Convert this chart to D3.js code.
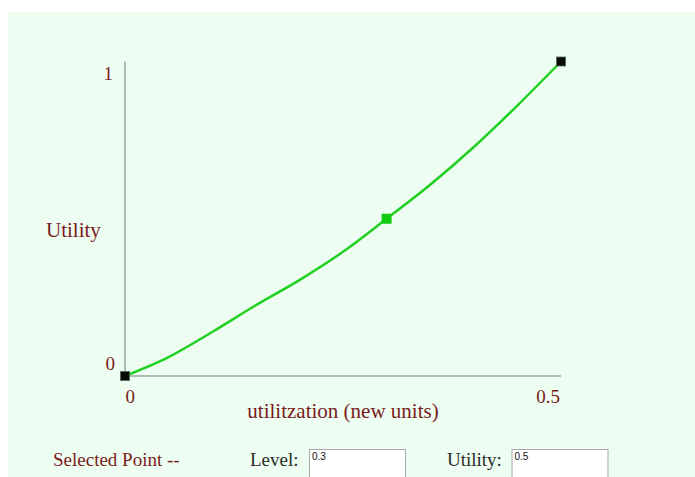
<!DOCTYPE html>
<html>
<head>
<meta charset="utf-8">
<script src="https://cdn.jsdelivr.net/npm/d3@7"></script>
<style>
  html, body { margin: 0; padding: 0; background: #ffffff; }
  svg { display: block; }
</style>
</head>
<body>
<svg id="chart" width="695" height="477"></svg>
<script>
// ---- data ----
const levels    = [0, 0.05, 0.1, 0.15, 0.2, 0.25, 0.3, 0.35, 0.4, 0.45, 0.5];
const utilities = [0, 0.06, 0.14, 0.225, 0.305, 0.395, 0.5, 0.608, 0.728, 0.86, 1];
const endpoints = [[0, 0], [0.5, 1]];
const selected  = [0.3, 0.5];
const xTickLabels = ["0", "0.5"];
const yTickLabels = ["0", "1"];
const xTitle = "utilitzation (new units)";
const yTitle = "Utility";

const svg = d3.select("#chart");
const darkRed = "#7a1c1c";
const serif = "'Liberation Serif', 'Times New Roman', serif";

// background panel
svg.append("rect").attr("x", 8).attr("y", 12).attr("width", 687).attr("height", 465)
  .attr("fill", "#edfdf1");

const x = d3.scaleLinear().domain([0, 0.5]).range([125, 561]);
const y = d3.scaleLinear().domain([0, 1]).range([376, 61.5]);

// axes
svg.append("line").attr("x1", x(0)).attr("x2", x(0)).attr("y1", y(0)).attr("y2", y(1))
  .attr("stroke", "#9aa39c").attr("stroke-width", 1.5);
svg.append("line").attr("x1", x(0)).attr("x2", x(0.5)).attr("y1", y(0)).attr("y2", y(0))
  .attr("stroke", "#9aa39c").attr("stroke-width", 1.5);

// tick labels
svg.append("text").attr("x", x(0) + 0.5).attr("y", y(0) + 27).text(xTickLabels[0])
  .attr("font-family", serif).attr("font-size", 19).attr("fill", darkRed);
svg.append("text").attr("x", x(0.5) - 1).attr("y", y(0) + 27).attr("text-anchor", "end").text(xTickLabels[1])
  .attr("font-family", serif).attr("font-size", 19).attr("fill", darkRed);
svg.append("text").attr("x", x(0) - 10).attr("y", y(0) - 6.5).attr("text-anchor", "end").text(yTickLabels[0])
  .attr("font-family", serif).attr("font-size", 19).attr("fill", darkRed);
svg.append("text").attr("x", x(0) - 12).attr("y", y(1) + 18.5).attr("text-anchor", "end").text(yTickLabels[1])
  .attr("font-family", serif).attr("font-size", 19).attr("fill", darkRed);

// axis titles
svg.append("text").attr("x", 343).attr("y", 418).attr("text-anchor", "middle").text(xTitle)
  .attr("font-family", serif).attr("font-size", 21).attr("fill", darkRed);
svg.append("text").attr("x", 46).attr("y", 237).text(yTitle)
  .attr("font-family", serif).attr("font-size", 21).attr("fill", darkRed);

// curve
const pts = levels.map((l, i) => [l, utilities[i]]);
const lineGen = d3.line().x(d => x(d[0])).y(d => y(d[1])).curve(d3.curveMonotoneX);
svg.append("path").datum(pts)
  .attr("fill", "none").attr("stroke", "#22d022").attr("stroke-width", 2.5)
  .attr("stroke-linejoin", "round").attr("stroke-linecap", "round")
  .attr("d", lineGen);

// endpoint markers
svg.selectAll("rect.end").data(endpoints).enter().append("rect").attr("class", "end")
  .attr("x", d => x(d[0]) - 4.5).attr("y", d => y(d[1]) - 4.5)
  .attr("width", 9).attr("height", 9)
  .attr("fill", "#0a0a0a").attr("stroke", "#4a6a4a").attr("stroke-width", 0.8);

// selected marker
svg.append("rect")
  .attr("x", x(selected[0]) - 5).attr("y", y(selected[1]) - 5)
  .attr("width", 10).attr("height", 10)
  .attr("fill", "#11cc11");

// bottom controls
svg.append("text").attr("x", 53).attr("y", 466).text("Selected Point --")
  .attr("font-family", serif).attr("font-size", 19).attr("fill", darkRed);
svg.append("text").attr("x", 250).attr("y", 466).text("Level:")
  .attr("font-family", serif).attr("font-size", 19).attr("fill", "#2a2a2a");
svg.append("text").attr("x", 447).attr("y", 466).text("Utility:")
  .attr("font-family", serif).attr("font-size", 19).attr("fill", "#2a2a2a");

const boxes = [{x: 309, v: selected[0]}, {x: 511.5, v: selected[1]}];
boxes.forEach(b => {
  svg.append("rect").attr("x", b.x + 0.5).attr("y", 449.5).attr("width", 96).attr("height", 30)
    .attr("fill", "#ffffff").attr("stroke", "#a8a8a8").attr("stroke-width", 1);
  svg.append("text").attr("x", b.x + 3).attr("y", 460).text(String(b.v))
    .attr("font-family", "'Liberation Sans', Arial, sans-serif").attr("font-size", 10).attr("fill", "#111");
});
</script>
</body>
</html>
